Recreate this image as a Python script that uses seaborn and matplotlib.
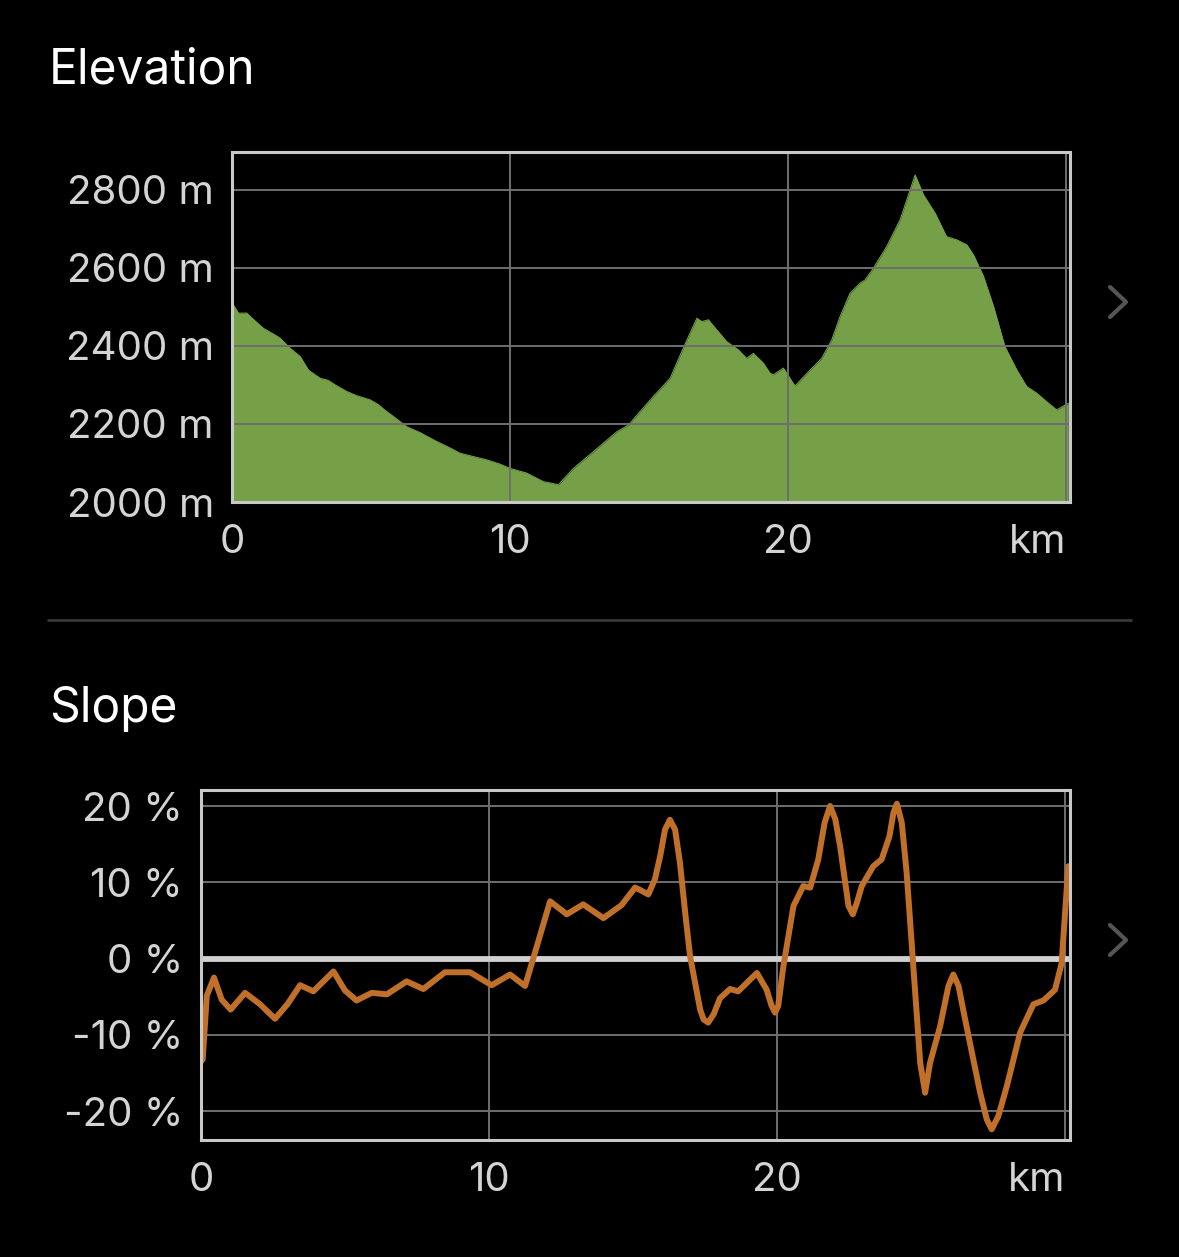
import numpy as np
import pandas as pd
import matplotlib
matplotlib.use("Agg")
import matplotlib.pyplot as plt
import seaborn as sns
from matplotlib.lines import Line2D

# elevation profile (km, m)
elev_km = [0.0, 0.05, 0.23, 0.53, 0.8, 1.13, 1.45, 1.73, 2.09, 2.45, 2.75, 3.17, 3.45, 3.71,
           4.13, 4.5, 4.96, 5.25, 5.56, 5.9, 6.28, 6.76, 7.36, 7.8, 8.2, 8.7, 9.16, 9.6, 10.0,
           10.6, 11.2, 11.5, 11.74, 12.28, 13.0, 13.84, 14.26, 14.68, 15.15, 15.76, 16.23,
           16.72, 16.9, 17.13, 17.79, 18.21, 18.51, 18.75, 19.11, 19.35, 19.47, 19.83, 20.25,
           20.79, 21.21, 21.57, 21.87, 22.23, 22.59, 22.77, 23.07, 23.55, 24.03, 24.57, 24.87,
           25.29, 25.7, 26.06, 26.43, 26.67, 27.03, 27.39, 27.8, 28.23, 28.58, 28.94, 29.3,
           29.66, 30.08]
elev_m = [2510, 2505, 2484, 2484, 2466, 2445, 2432, 2420, 2394, 2373, 2338, 2317, 2312, 2300,
          2283, 2272, 2262, 2250, 2232, 2214, 2193, 2178, 2155, 2140, 2125, 2116, 2108, 2098,
          2086, 2074, 2052, 2048, 2044, 2086, 2129, 2180, 2197, 2232, 2270, 2317, 2394, 2471,
          2462, 2467, 2411, 2390, 2368, 2381, 2356, 2330, 2326, 2343, 2297, 2338, 2368, 2415,
          2475, 2535, 2561, 2569, 2599, 2655, 2723, 2838, 2787, 2740, 2680, 2672, 2659, 2633,
          2578, 2501, 2398, 2338, 2296, 2279, 2257, 2236, 2253]

# slope (km, %)
slope_km = [0.0, 0.06, 0.2, 0.45, 0.72, 1.03, 1.53, 2.05, 2.57, 3.0, 3.44, 3.9, 4.6, 5.0, 5.4,
            5.93, 6.45, 7.14, 7.72, 8.47, 9.34, 10.09, 10.73, 11.25, 11.66, 12.12, 12.7,
            13.27, 13.97, 14.6, 15.07, 15.24, 15.53, 15.76, 15.94, 16.11, 16.28, 16.46, 16.63,
            16.81, 16.98, 17.33, 17.45, 17.61, 17.8, 18.02, 18.37, 18.65, 19.3, 19.64, 19.81,
            19.93, 20.04, 20.22, 20.57, 20.91, 21.15, 21.43, 21.65, 21.84, 22.02, 22.19, 22.48,
            22.63, 22.77, 22.94, 23.34, 23.63, 23.9, 24.04, 24.16, 24.33, 24.5, 24.73, 24.97,
            25.14, 25.31, 25.66, 25.95, 26.12, 26.3, 26.53, 27.05, 27.28, 27.45, 27.68, 27.98,
            28.44, 28.9, 29.25, 29.65, 29.88, 30.11]
slope_pct = [-13.5, -13.2, -4.9, -2.5, -5.4, -6.7, -4.5, -6.0, -7.9, -6.0, -3.5, -4.3, -1.7,
             -4.2, -5.5, -4.5, -4.7, -3.0, -4.0, -1.8, -1.8, -3.5, -2.1, -3.6, 1.6, 7.5, 5.8,
             7.1, 5.3, 7.0, 9.3, 9.0, 8.4, 10.4, 13.4, 16.9, 18.2, 16.9, 12.5, 6.0, 0.3, -6.7,
             -8.0, -8.4, -7.3, -5.2, -4.0, -4.3, -1.9, -4.1, -6.2, -7.1, -6.2, -1.0, 6.9, 9.5,
             9.3, 13.0, 17.8, 20.0, 18.3, 14.7, 6.9, 5.8, 7.3, 9.5, 12.1, 13.0, 16.0, 19.1,
             20.3, 17.8, 11.2, -1.0, -13.7, -17.6, -13.7, -8.9, -3.6, -2.1, -3.6, -8.0, -17.6,
             -21.1, -22.4, -20.7, -16.7, -9.7, -6.0, -5.5, -4.1, -0.6, 12.1]

elev_ticks = [2000, 2200, 2400, 2600, 2800]
slope_ticks = [-20, -10, 0, 10, 20]
km_ticks = [0, 10, 20, 30]
km_labels = ["0", "10", "20", "km"]

green = "#76a048"
orange = "#c07029"
grid_c = "#6f6f6f"
spine_c = "#c8c8c8"
tick_c = "#d4d4d4"

sns.set_theme(style="dark")
plt.rcParams["font.family"] = ["Inter", "DejaVu Sans"]

df_e = pd.DataFrame({"km": elev_km, "m": elev_m})
df_s = pd.DataFrame({"km": slope_km, "pct": slope_pct})

fig = plt.figure(figsize=(11.79, 12.57), dpi=100, facecolor="black")
W, H = 1179, 1257


def px_axes(x0, y0, x1, y1):
    return fig.add_axes([x0 / W, 1 - y1 / H, (x1 - x0) / W, (y1 - y0) / H])


def style(ax):
    ax.set_facecolor("black")
    ax.grid(True, color=grid_c, linewidth=1.4)
    ax.set_axisbelow(False)
    for s in ax.spines.values():
        s.set_visible(True)
        s.set_color(spine_c)
        s.set_linewidth(2.2)
        s.set_zorder(5)
    ax.tick_params(axis="both", length=0, colors=tick_c, labelsize=29)
    ax.tick_params(axis="x", pad=16)
    ax.tick_params(axis="y", pad=13)
    ax.set_xlabel("")
    ax.set_ylabel("")
    ax.set_xticks(km_ticks)
    ax.set_xticklabels(km_labels)
    ax.get_xticklabels()[-1].set_ha("right")


# elevation
ax1 = px_axes(232, 152, 1070, 502)
ax1.fill_between(df_e["km"], df_e["m"], 2000, color=green, linewidth=0, zorder=1)
sns.lineplot(data=df_e, x="km", y="m", ax=ax1, color=green, linewidth=0.8, zorder=1)
ax1.set_xlim(0, 30.14)
ax1.set_ylim(2000, 2897)
ax1.set_yticks(elev_ticks)
ax1.set_yticklabels([f"{v} m" for v in elev_ticks])
style(ax1)

# slope
ax2 = px_axes(201, 790, 1070, 1140)
ax2.axhline(0, color="#d0d0d0", linewidth=4.2, zorder=2.8)
sns.lineplot(data=df_s, x="km", y="pct", ax=ax2, color=orange, linewidth=4.3, zorder=3)
ax2.lines[-1].set_solid_joinstyle("round")
ax2.lines[-1].set_solid_capstyle("round")
ax2.set_xlim(0, 30.17)
ax2.set_ylim(-23.8, 22.1)
ax2.set_yticks(slope_ticks)
ax2.set_yticklabels([f"{v} %" for v in slope_ticks])
style(ax2)

# titles
fig.text(49 / W, 1 - 84 / H, "Elevation", color="white", fontsize=34.5, va="baseline", ha="left")
fig.text(49 / W, 1 - 722 / H, "Slope", color="white", fontsize=34.5, va="baseline", ha="left")

# separator and chevrons
fig.add_artist(Line2D([48 / W, 1131 / W], [1 - 620 / H] * 2, color="#38383a", linewidth=2))
for cy in (302, 940):
    fig.add_artist(Line2D([1110 / W, 1126 / W, 1110 / W],
                          [1 - (cy - 15) / H, 1 - cy / H, 1 - (cy + 15) / H],
                          color="#555558", linewidth=3, solid_capstyle="round",
                          solid_joinstyle="round"))

fig.savefig("out.png", dpi=100, facecolor="black")
